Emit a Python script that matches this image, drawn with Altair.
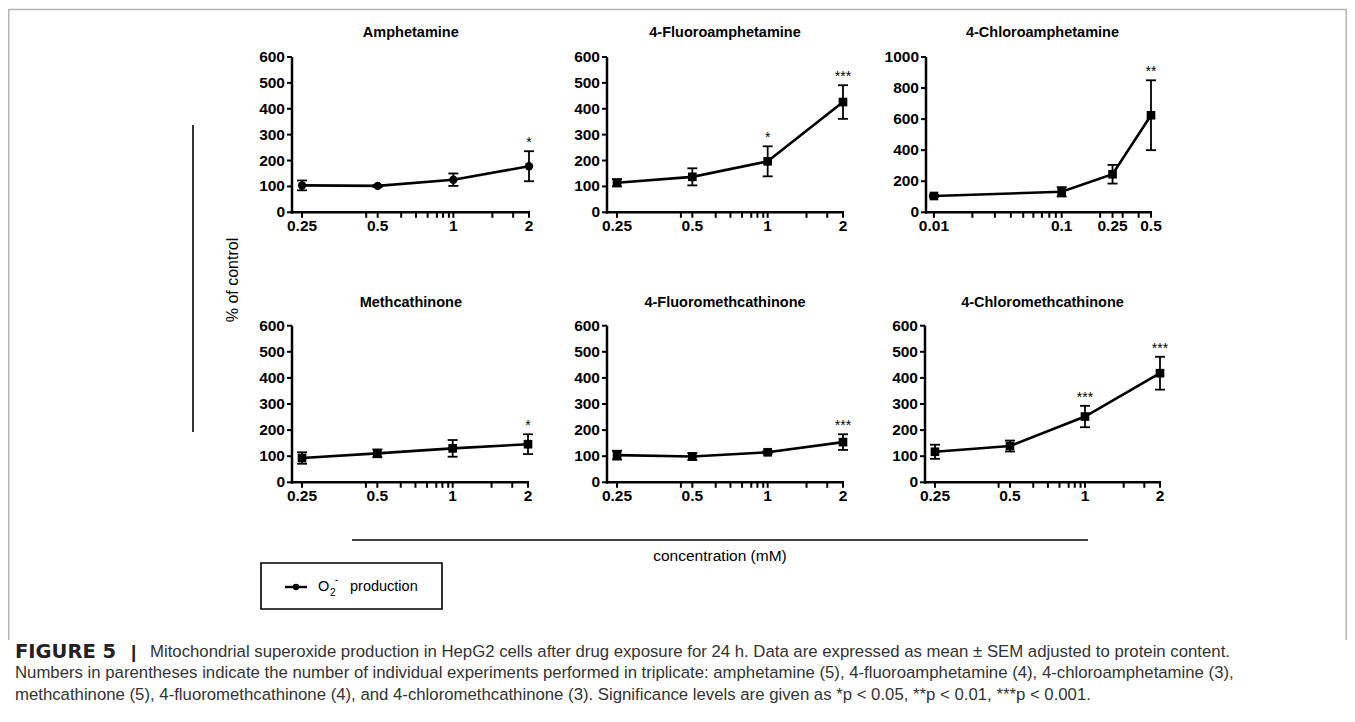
import altair as alt
import pandas as pd

FONT = "Liberation Sans"
W, H = 1339, 700

# ---------------- data ----------------
titles = ["Amphetamine", "4-Fluoroamphetamine", "4-Chloroamphetamine",
          "Methcathinone", "4-Fluoromethcathinone", "4-Chloromethcathinone"]

conc_std = [0.25, 0.5, 1, 2]
conc_cl = [0.01, 0.1, 0.25, 0.5]

amph_mean = [104, 102, 126, 178]
amph_sem = [19, 4, 24, 58]
amph_sig = ["", "", "", "*"]

fa_mean = [114, 137, 197, 426]
fa_sem = [14, 33, 58, 65]
fa_sig = ["", "", "*", "***"]

ca_mean = [105, 132, 245, 625]
ca_sem = [6, 30, 60, 225]
ca_sig = ["", "", "", "**"]

mc_mean = [93, 111, 130, 146]
mc_sem = [22, 15, 32, 38]
mc_sig = ["", "", "", "*"]

fmc_mean = [104, 99, 115, 154]
fmc_sem = [17, 13, 5, 30]
fmc_sig = ["", "", "", "***"]

cmc_mean = [117, 139, 252, 418]
cmc_sem = [27, 21, 41, 63]
cmc_sig = ["", "", "***", "***"]

major_std = [0.25, 0.5, 1, 2]
major_std_lab = ["0.25", "0.5", "1", "2"]
minor_std = [0.45, 0.62, 0.71, 0.79, 0.86, 0.91, 0.96, 1.43, 1.73]
major_cl = [0.01, 0.1, 0.25, 0.5]
major_cl_lab = ["0.01", "0.1", "0.25", "0.5"]
minor_cl = [0.02, 0.03, 0.04, 0.05, 0.06, 0.07, 0.08, 0.09, 0.2, 0.3, 0.4]

y600 = [0, 100, 200, 300, 400, 500, 600]
y1000 = [0, 200, 400, 600, 800, 1000]

legend_label = "production"
y_label = "% of control"
x_label = "concentration (mM)"

cap1_bold = "FIGURE 5"
cap1 = ("Mitochondrial superoxide production in HepG2 cells after drug exposure for 24 h. "
        "Data are expressed as mean \u00b1 SEM adjusted to protein content.")
cap2 = ("Numbers in parentheses indicate the number of individual experiments performed in triplicate: "
        "amphetamine (5), 4-fluoroamphetamine (4), 4-chloroamphetamine (3),")
cap3 = ("methcathinone (5), 4-fluoromethcathinone (4), and 4-chloromethcathinone (3). "
        "Significance levels are given as *p < 0.05, **p < 0.01, ***p < 0.001.")

one = pd.DataFrame({"a": [0]})


def rule(x, x2, y, y2, color="black", width=1.6):
    return alt.Chart(one).mark_rule(color=color, strokeWidth=width).encode(
        x=alt.value(x), x2=alt.value(x2), y=alt.value(y), y2=alt.value(y2))


def text(s, x, y, size, weight="normal", align="left", angle=0, color="black",
         baseline="middle", font=FONT):
    return alt.Chart(pd.DataFrame({"t": [s]})).mark_text(
        font=font, fontSize=size, fontWeight=weight, align=align, angle=angle,
        color=color, baseline=baseline).encode(
        x=alt.value(x), y=alt.value(y), text="t:N")


def panel(conc, mean, sem, sig, title, shape, xdom, xrange, ydom, yrange,
          yvals, major, major_lab, minor, title_xy):
    df = pd.DataFrame({
        "conc": conc,
        "mean": mean,
        "lo": [m - s for m, s in zip(mean, sem)],
        "hi": [m + s for m, s in zip(mean, sem)],
        "sig": sig,
    })
    xs = alt.Scale(type="log", domain=xdom, range=xrange, nice=False)
    ys = alt.Scale(domain=ydom, range=yrange, nice=False, zero=False)
    x0, x1 = xrange
    yb, ytop = yrange

    # axes (drawn with the panel's own scales)
    ydf = pd.DataFrame({"v": yvals, "lab": [str(v) for v in yvals]})
    xdf = pd.DataFrame({"v": major + minor,
                        "lab": major_lab + [""] * len(minor)})
    y_dom = rule(x0, x0, yb + 1.25, ytop, width=2.5)
    x_dom = rule(x0 - 1.25, x1 + 1, yb, yb, width=2.5)
    y_ticks = alt.Chart(ydf).mark_rule(color="black", strokeWidth=2).encode(
        y=alt.Y("v:Q", scale=ys, axis=None), x=alt.value(x0 - 5), x2=alt.value(x0))
    y_labs = alt.Chart(ydf).mark_text(
        font=FONT, fontSize=15.5, fontWeight="bold", align="right",
        baseline="middle", color="black").encode(
        y=alt.Y("v:Q", scale=ys, axis=None), x=alt.value(x0 - 7), text="lab:N")
    x_ticks = alt.Chart(xdf).mark_rule(color="black", strokeWidth=2).encode(
        x=alt.X("v:Q", scale=xs, axis=None), y=alt.value(yb), y2=alt.value(yb + 5.5))
    x_labs = alt.Chart(xdf).mark_text(
        font=FONT, fontSize=15.5, fontWeight="bold", align="center",
        baseline="top", color="black").encode(
        x=alt.X("v:Q", scale=xs, axis=None), y=alt.value(yb + 7), text="lab:N")

    X = alt.X("conc:Q", scale=xs, axis=None)
    base = alt.Chart(df)
    err = base.mark_rule(color="black", strokeWidth=1.8).encode(
        x=X, y=alt.Y("lo:Q", scale=ys, axis=None), y2="hi:Q")
    cap_hi = base.mark_tick(orient="horizontal", size=10, thickness=1.8,
                            color="black", opacity=1).encode(
        x=X, y=alt.Y("hi:Q", scale=ys, axis=None))
    cap_lo = base.mark_tick(orient="horizontal", size=10, thickness=1.8,
                            color="black", opacity=1).encode(
        x=X, y=alt.Y("lo:Q", scale=ys, axis=None))
    line = base.mark_line(color="black", strokeWidth=2.6).encode(
        x=X, y=alt.Y("mean:Q", scale=ys, axis=None))
    pts = base.mark_point(shape=shape, filled=True, color="black", opacity=1,
                          size=75 if shape == "square" else 70).encode(
        x=X, y=alt.Y("mean:Q", scale=ys, axis=None))
    stars = base.mark_text(font=FONT, fontSize=14, baseline="alphabetic",
                           dy=-4, color="black").encode(
        x=X, y=alt.Y("hi:Q", scale=ys, axis=None), text="sig:N")
    ttl = text(title, title_xy[0], title_xy[1], 14.5, weight="bold", align="center")
    return alt.layer(y_dom, x_dom, y_ticks, y_labs, x_ticks, x_labs,
                     err, cap_hi, cap_lo, line, pts, stars, ttl)


D_STD = [0.228, 2]
D_CL = [0.00867, 0.5]
R1 = [204.3, 49]
R2 = [474.3, 317.7]

panels = [
    panel(conc_std, amph_mean, amph_sem, amph_sig, titles[0], "circle",
          D_STD, [284, 521], [0, 600], R1, y600, major_std, major_std_lab,
          minor_std, (402.8, 25.3)),
    panel(conc_std, fa_mean, fa_sem, fa_sig, titles[1], "square",
          D_STD, [599, 835], [0, 600], R1, y600, major_std, major_std_lab,
          minor_std, (717, 25.3)),
    panel(conc_cl, ca_mean, ca_sem, ca_sig, titles[2], "square",
          D_CL, [918, 1143], [0, 1000], R1, y1000, major_cl, major_cl_lab,
          minor_cl, (1034.5, 25.3)),
    panel(conc_std, mc_mean, mc_sem, mc_sig, titles[3], "square",
          D_STD, [284, 520], [0, 600], R2, y600, major_std, major_std_lab,
          minor_std, (402.8, 294.7)),
    panel(conc_std, fmc_mean, fmc_sem, fmc_sig, titles[4], "square",
          D_STD, [599, 835], [0, 600], R2, y600, major_std, major_std_lab,
          minor_std, (717, 294.7)),
    panel(conc_std, cmc_mean, cmc_sem, cmc_sig, titles[5], "square",
          D_STD, [917, 1152], [0, 600], R2, y600, major_std, major_std_lab,
          minor_std, (1034.5, 294.7)),
]

decor = [
    # frame
    rule(0, W, 1.5, 1.5, color="#b5b5b5", width=1.5),
    rule(0.8, 0.8, 1.5, 632, color="#b5b5b5", width=1.5),
    rule(W - 0.8, W - 0.8, 1.5, 632, color="#b5b5b5", width=1.5),
    # shared axis titles
    rule(185, 185, 117, 424),
    text(y_label, 225, 272, 16, align="center", angle=270),
    rule(344, 1080, 532, 532),
    text(x_label, 712, 548, 15.5, align="center"),
    # legend box
    alt.Chart(one).mark_rect(fillOpacity=0, stroke="black", strokeWidth=1.6).encode(
        x=alt.value(253), x2=alt.value(434), y=alt.value(555), y2=alt.value(601)),
    rule(277, 299, 579, 579, width=2.4),
    alt.Chart(one).mark_point(shape="circle", filled=True, color="black",
                              opacity=1, size=40).encode(
        x=alt.value(288), y=alt.value(579)),
    text("O", 310, 579, 14.5),
    text("2", 322, 585, 10),
    text("-", 327, 572, 10),
    text(legend_label, 342, 579, 14.5),
    # caption
    text(cap1_bold, 7, 644, 19.5, weight="bold", color="#222", font="DejaVu Sans"),
    text("|", 123, 644, 19, weight="bold", color="#222"),
    text(cap1, 142, 644, 16.75, color="#333"),
    text(cap2, 7, 665, 16.75, color="#333"),
    text(cap3, 7, 687, 16.75, color="#333"),
]

chart = alt.layer(*panels, *decor).resolve_scale(
    x="independent", y="independent"
).properties(
    width=W, height=H, padding=0,
    autosize=alt.AutoSizeParams(type="none"),
).configure_view(stroke=None)

chart.save("out.html", embed_options={"renderer": "svg", "actions": False})
